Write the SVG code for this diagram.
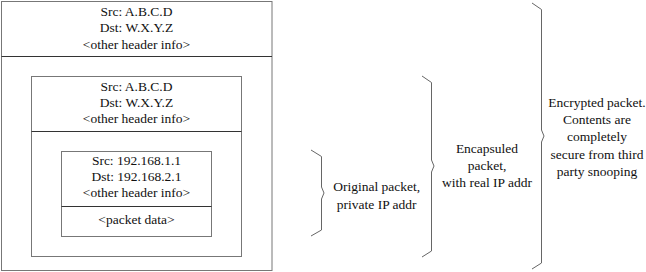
<svg xmlns="http://www.w3.org/2000/svg" width="646" height="272" viewBox="0 0 646 272">
<style>
.box{fill:#fff;stroke:#777;stroke-width:1}
.div{stroke:#333;stroke-width:1}
.brace{fill:none;stroke:#666;stroke-width:1}
.t{font-family:'Liberation Serif', 'Times New Roman', serif;font-size:13.5px;fill:#111;text-anchor:middle}
</style>
<rect width="646" height="272" fill="#fff"/>
<g id="outer">
<rect class="box" x="1.5" y="1.5" width="270.5" height="269"/>
<line class="div" x1="1.5" y1="56.5" x2="272" y2="56.5"/>
<g class="t" font-family="Liberation Serif, serif">
<text x="136.5" y="16">Src: A.B.C.D</text>
<text x="136.5" y="32.3">Dst: W.X.Y.Z</text>
<text x="136.5" y="48.5">&lt;other header info&gt;</text>
</g>
</g>
<g id="middle">
<rect class="box" x="31.5" y="76.5" width="210" height="180"/>
<line class="div" x1="31.5" y1="131.5" x2="241.5" y2="131.5"/>
<g class="t">
<text x="136.5" y="90.7">Src: A.B.C.D</text>
<text x="136.5" y="106.8">Dst: W.X.Y.Z</text>
<text x="136.5" y="123">&lt;other header info&gt;</text>
</g>
</g>
<g id="inner">
<rect class="box" x="61.5" y="151.5" width="150" height="85"/>
<line class="div" x1="61.5" y1="206.5" x2="211.5" y2="206.5"/>
<g class="t">
<text x="136.5" y="164.5">Src: 192.168.1.1</text>
<text x="136.5" y="180.8">Dst: 192.168.2.1</text>
<text x="136.5" y="197">&lt;other header info&gt;</text>
<text x="136.5" y="223.5">&lt;packet data&gt;</text>
</g>
</g>
<g id="connectors">
<path class="brace" d="M311,150 L321.5,156.5 L321.5,187 L324,193 L321.5,199 L321.5,230 L311,236"/>
<path class="brace" d="M422,76 L431.5,82.5 L431.5,160 L434,166 L431.5,172 L431.5,251 L422,257"/>
<path class="brace" d="M532,3 L541.5,9.5 L541.5,130 L544,136 L541.5,142 L541.5,263 L532,269"/>
</g>
<g id="label-original" class="t">
<text x="376.7" y="191">Original packet,</text>
<text x="376.7" y="208.5">private IP addr</text>
</g>
<g id="label-encapsuled" class="t">
<text x="487" y="152.7">Encapsuled</text>
<text x="487" y="170">packet,</text>
<text x="487" y="187.3">with real IP addr</text>
</g>
<g id="label-encrypted" class="t">
<text x="597" y="106.7">Encrypted packet.</text>
<text x="597" y="124">Contents are</text>
<text x="597" y="141.3">completely</text>
<text x="597" y="158.7">secure from third</text>
<text x="597" y="176">party snooping</text>
</g>
</svg>
